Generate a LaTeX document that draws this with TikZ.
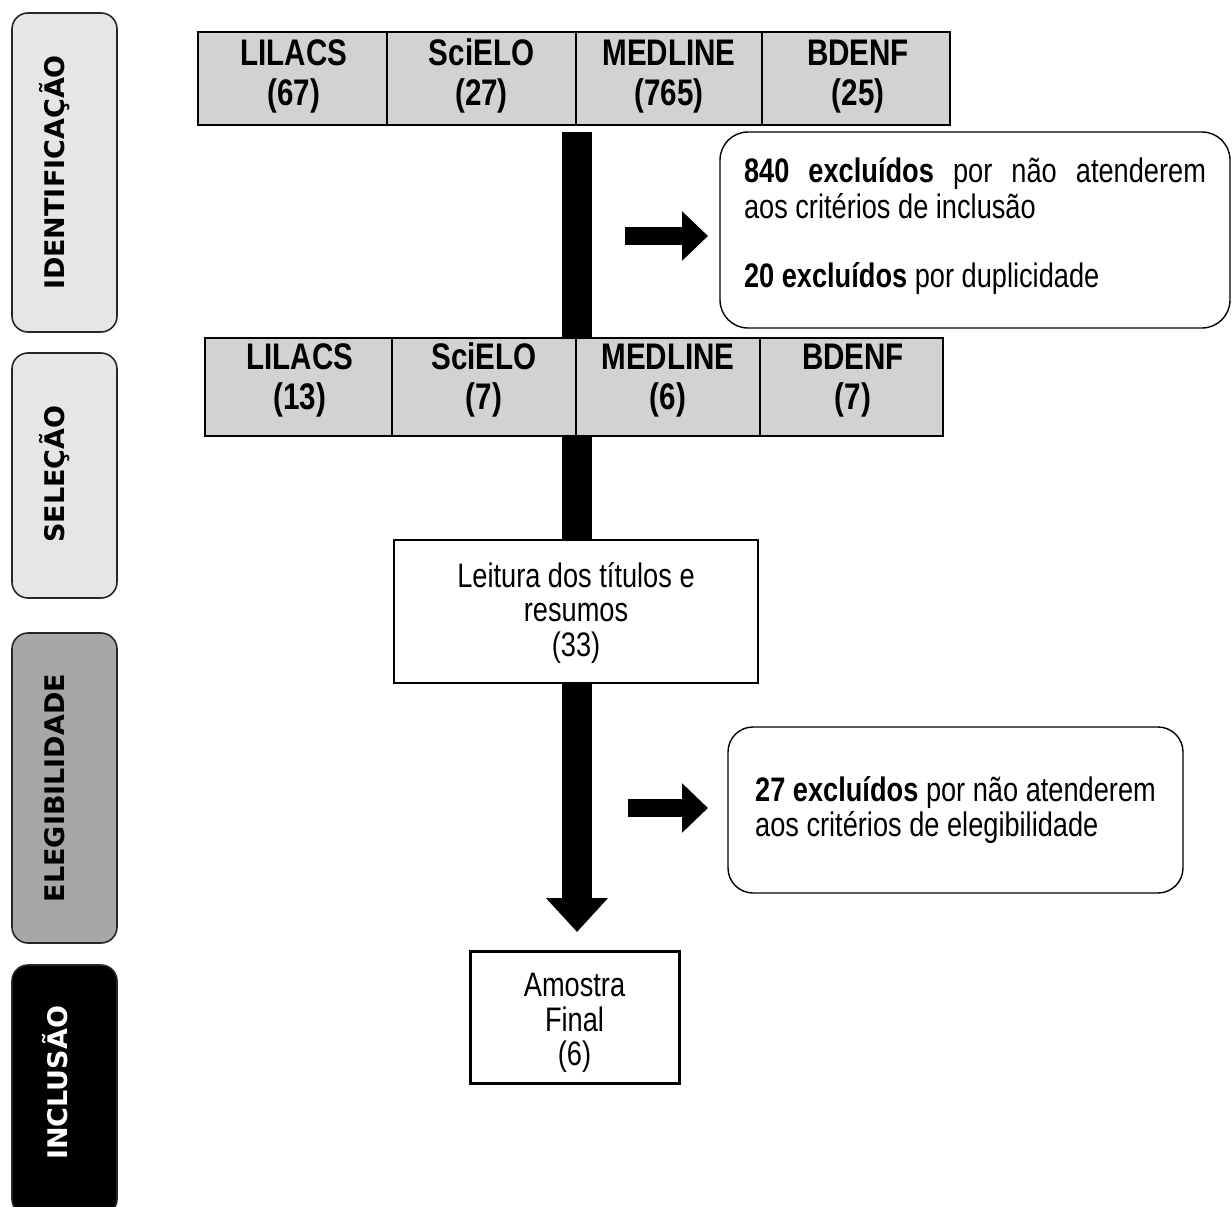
\documentclass[tikz,border=0pt]{standalone}
\usepackage{fontspec}
\setmainfont{Liberation Sans}[FakeStretch=0.8]
\newfontfamily\phasefont{DejaVu Sans}
\usetikzlibrary{arrows.meta,backgrounds}
\definecolor{cellgray}{RGB}{210,210,210}
\definecolor{phaselight}{RGB}{230,230,230}
\definecolor{phasedark}{RGB}{168,166,166}
\begin{document}
\begin{tikzpicture}[x=1pt,y=-1pt,
  every node/.style={inner sep=0pt, outer sep=0pt},
  cell/.style={draw, fill=cellgray, line width=1.4pt, minimum height=#1},
  celltext/.style={align=center, font=\fontsize{37}{40}\selectfont\bfseries},
  phase/.style={draw=black!85, line width=1.6pt, rounded corners=16pt, minimum width=105pt},
  phasetext/.style={rotate=90, font=\phasefont\bfseries\fontsize{27}{30}\selectfont},
  excl/.style={draw, line width=1.4pt, rounded corners=28pt},
  bodytext/.style={font=\fontsize{34}{35}\selectfont},
  plainbox/.style={draw, fill=white, line width=1.4pt},
  boxtext/.style={align=center, font=\fontsize{34}{34.5}\selectfont},
  mainbar/.style={line width=30pt, black},
  sidearrow/.style={line width=18pt, black, -{Triangle[length=26pt,width=48pt]}}]

\path[use as bounding box] (0,0) rectangle (1232,1207);

% phase labels
\node[phase, fill=phaselight, minimum height=319pt] (p1) at (64.5,172.5) {};
\node[phasetext] (p1t) at (55,172.5) {IDENTIFICAÇÃO};
\node[phase, fill=phaselight, minimum height=245pt] (p2) at (64.5,475.5) {};
\node[phasetext] (p2t) at (55,474) {SELEÇÃO};
\node[phase, fill=phasedark, minimum height=310pt] (p3) at (64.5,788) {};
\node[phasetext] (p3t) at (55,788) {ELEGIBILIDADE};
\node[phase, fill=black, minimum height=250pt] (p4) at (64.5,1090) {};
\node[phasetext, text=white] (p4t) at (55,1083) {INCLUSÃO};

% top table
\node[cell=93pt, minimum width=189pt] (a1) at (292.5,78.5) {};
\node[cell=93pt, minimum width=189pt] (a2) at (481.5,78.5) {};
\node[cell=93pt, minimum width=186pt] (a3) at (669,78.5) {};
\node[cell=93pt, minimum width=188pt] (a4) at (856,78.5) {};
\node[celltext] (a1t) at (294,78) {\strut LILACS\\\strut(67)};
\node[celltext] (a2t) at (481.5,78) {\strut SciELO\\\strut(27)};
\node[celltext] (a3t) at (669,78) {\strut MEDLINE\\\strut(765)};
\node[celltext] (a4t) at (858,78) {\strut BDENF\\\strut(25)};

% second table
\node[cell=98pt, minimum width=187pt] (b1) at (298.5,387) {};
\node[cell=98pt, minimum width=184pt] (b2) at (484,387) {};
\node[cell=98pt, minimum width=184pt] (b3) at (668,387) {};
\node[cell=98pt, minimum width=183pt] (b4) at (851.5,387) {};
\node[celltext] (b1t) at (300,381) {\strut LILACS\\\strut(13)};
\node[celltext] (b2t) at (484,381) {\strut SciELO\\\strut(7)};
\node[celltext] (b3t) at (668,381) {\strut MEDLINE\\\strut(6)};
\node[celltext] (b4t) at (853,381) {\strut BDENF\\\strut(7)};

% exclusion box 1
\node[excl, minimum width=510pt, minimum height=196pt] (e1) at (975,230) {};
\node[font=\fontsize{34}{36}\selectfont, text width=462pt, align=justify] (e1t) at (975,226.5)
  {\textbf{840 excluídos} por não atenderem\linebreak aos critérios de inclusão\par\vspace{33pt}\textbf{20 excluídos} por duplicidade};

% reading box
\node[plainbox, minimum width=364pt, minimum height=143pt] (lei) at (576,611.5) {};
\node[boxtext] (leit) at (576,612.5) {Leitura dos títulos e\\resumos\\(33)};

% exclusion box 2
\node[excl, bodytext, rounded corners=25pt, minimum width=455pt, minimum height=166pt, align=left] (e2) at (955.5,810)
  {\textbf{27 excluídos} por não atenderem\\aos critérios de elegibilidade};

% final sample
\node[plainbox, line width=3pt, minimum width=209pt, minimum height=132pt] (am) at (574.5,1017) {};
\node[boxtext] (amt) at (574.5,1023) {Amostra\\Final\\(6)};

% connectors
\coordinate (bartop) at (577,132);
\coordinate (tip) at (577,932);
\coordinate (s1a) at (625,236);
\coordinate (s1b) at (708,236);
\coordinate (s2a) at (628,808);
\coordinate (s2b) at (708,808);

\begin{scope}[on background layer]
  \draw[mainbar] (bartop) -- (bartop |- lei.north);
\end{scope}
\draw[mainbar, -{Triangle[length=34pt,width=60pt]}] (tip |- lei.south) -- (tip);
\draw[sidearrow] (s1a) -- (s1b);
\draw[sidearrow] (s2a) -- (s2b);
\end{tikzpicture}
\end{document}
